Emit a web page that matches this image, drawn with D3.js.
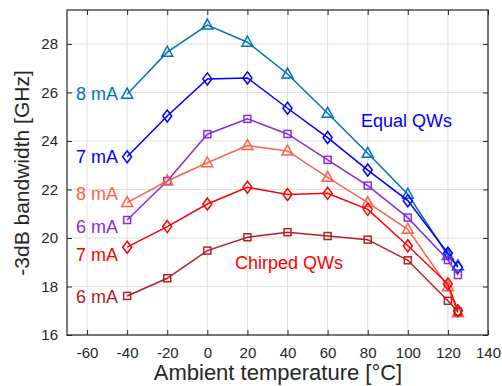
<!DOCTYPE html>
<html>
<head>
<script src="https://d3js.org/d3.v7.min.js"></script>
<style>
body{margin:0;background:#fff;}
text{font-family:"Liberation Sans",Arial,sans-serif;}
</style>
</head>
<body>
<script>
var temps = [-40,-20,0,20,40,60,80,100,120,125];
var eq8 = [25.93,27.66,28.78,28.07,26.76,25.14,23.49,21.80,19.28,18.85];
var eq7 = [23.35,25.03,26.56,26.60,25.35,24.14,22.80,21.54,19.37,18.79];
var eq6 = [20.74,22.35,24.28,24.91,24.29,23.22,22.16,20.84,19.09,18.47];
var ch8 = [21.46,22.35,23.10,23.81,23.59,22.50,21.46,20.36,17.99,16.92];
var ch7 = [19.62,20.47,21.40,22.09,21.79,21.84,21.18,19.68,18.10,17.00];
var ch6 = [17.61,18.34,19.48,20.03,20.24,20.08,19.93,19.08,17.41,16.96];
var xTicks = [-60,-40,-20,0,20,40,60,80,100,120,140];
var yTicks = [16,18,20,22,24,26,28];

var w = 502, h = 386;
var mL = 67, mR = 488, mT = 10, mB = 335;

var series = [
  {v:eq8, c:"#0072BD", m:"tri", label:"8 mA", ly:94},
  {v:eq7, c:"#0000FF", m:"dia", label:"7 mA", ly:157},
  {v:eq6, c:"#8A2BE2", m:"sq", label:"6 mA", ly:227},
  {v:ch8, c:"#FF6347", m:"tri", label:"8 mA", ly:194},
  {v:ch7, c:"#FF0000", m:"dia", label:"7 mA", ly:255},
  {v:ch6, c:"#B22222", m:"sq", label:"6 mA", ly:297}
];

var x = d3.scaleLinear().domain([-70,140]).range([mL,mR]);
var y = d3.scaleLinear().domain([16,29.4]).range([mB,mT]);

var svg = d3.select("body").append("svg").attr("width",w).attr("height",h);

// grid
svg.append("g").selectAll("line").data(xTicks).enter().append("line")
  .attr("x1",d=>x(d)).attr("x2",d=>x(d)).attr("y1",mT).attr("y2",mB)
  .attr("stroke","#dfdfdf").attr("stroke-width",1);
svg.append("g").selectAll("line").data(yTicks).enter().append("line")
  .attr("y1",d=>y(d)).attr("y2",d=>y(d)).attr("x1",mL).attr("x2",mR)
  .attr("stroke","#dfdfdf").attr("stroke-width",1);

// lines + markers
var line = d3.line().x((d,i)=>x(temps[i])).y(d=>y(d));
series.forEach(function(s){
  svg.append("path").attr("d",line(s.v)).attr("fill","none")
    .attr("stroke",s.c).attr("stroke-width",1.5);
  var g = svg.append("g");
  s.v.forEach(function(v,i){
    var px = x(temps[i]), py = y(v);
    if (s.m=="tri") {
      g.append("path").attr("d","M"+px+","+(py-6)+"L"+(px+5.5)+","+(py+4)+"L"+(px-5.5)+","+(py+4)+"Z")
        .attr("fill","none").attr("stroke",s.c).attr("stroke-width",1.5);
    } else if (s.m=="dia") {
      g.append("path").attr("d","M"+px+","+(py-6)+"L"+(px+4.5)+","+py+"L"+px+","+(py+6)+"L"+(px-4.5)+","+py+"Z")
        .attr("fill","none").attr("stroke",s.c).attr("stroke-width",1.5);
    } else {
      g.append("rect").attr("x",px-3.5).attr("y",py-3.5).attr("width",7).attr("height",7)
        .attr("fill","none").attr("stroke",s.c).attr("stroke-width",1.5);
    }
  });
  svg.append("text").attr("x",118).attr("y",s.ly).attr("dy","0.35em")
    .attr("text-anchor","end").style("font-size","18px").attr("fill",s.c).text(s.label);
});

svg.append("text").attr("x",361).attr("y",121).attr("dy","0.35em")
  .style("font-size","18px").attr("fill","#0000FF").text("Equal QWs");
svg.append("text").attr("x",235).attr("y",263).attr("dy","0.35em")
  .style("font-size","18px").attr("fill","#FF0000").text("Chirped QWs");

// axes
var fmt = d => String(d);
var xAxis = d3.axisBottom(x).tickValues(xTicks).tickSize(-5).tickPadding(12).tickFormat(fmt);
var yAxis = d3.axisLeft(y).tickValues(yTicks).tickSize(-5).tickPadding(9).tickFormat(fmt);
svg.append("g").attr("transform","translate(0,"+mB+")").call(xAxis);
svg.append("g").attr("transform","translate("+mL+",0)").call(yAxis);
svg.append("g").attr("transform","translate(0,"+mT+")")
  .call(d3.axisTop(x).tickValues(xTicks).tickSize(-5).tickFormat(""));
svg.append("g").attr("transform","translate("+mR+",0)")
  .call(d3.axisRight(y).tickValues(yTicks).tickSize(-5).tickFormat(""));
svg.selectAll(".domain").remove();
svg.selectAll(".tick line").attr("stroke","#262626");
svg.selectAll(".tick text").attr("fill","#262626").style("font-size","15px")
  .style("font-family","Liberation Sans, Arial, sans-serif");
svg.append("rect").attr("x",mL).attr("y",mT).attr("width",mR-mL).attr("height",mB-mT)
  .attr("fill","none").attr("stroke","#262626").attr("stroke-width",1.2);

svg.append("text").attr("x",278).attr("y",380).attr("text-anchor","middle")
  .style("font-size","22px").attr("fill","#262626").text("Ambient temperature [°C]");
svg.append("text").attr("transform","translate(29,173) rotate(-90)")
  .attr("text-anchor","middle").style("font-size","21px").attr("fill","#262626")
  .text("-3dB bandwidth [GHz]");
</script>
</body>
</html>
